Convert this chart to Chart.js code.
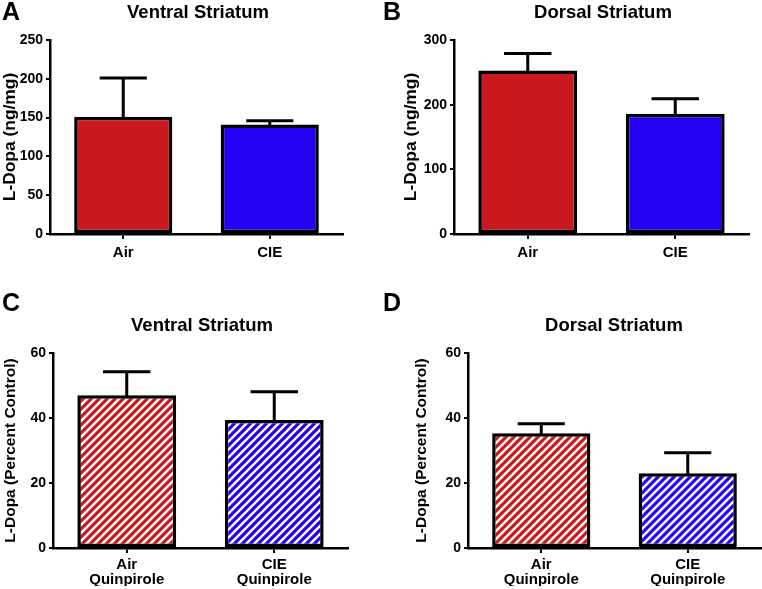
<!DOCTYPE html>
<html>
<head>
<meta charset="utf-8">
<script src="https://cdn.jsdelivr.net/npm/chart.js@4.4.1/dist/chart.umd.min.js"></script>
<style>
    body { margin: 0; background: #fff; }
    #page { position: relative; width: 762px; height: 589px; overflow: hidden; font-family: 'Liberation Sans', Arial, sans-serif; font-weight: bold; color: #000; }
    .panel { position: absolute; }
    .letter { position: absolute; font-size: 25px; line-height: 25px; }
    .title { position: absolute; font-size: 18.5px; line-height: 18.5px; transform: translateX(-50%); white-space: nowrap; }
</style>
</head>
<body>
<div id="page">
    <canvas id="chartA" class="panel" width="381" height="280" style="left:0;top:0"></canvas>
    <canvas id="chartB" class="panel" width="381" height="280" style="left:381px;top:0"></canvas>
    <canvas id="chartC" class="panel" width="381" height="299" style="left:0;top:290px"></canvas>
    <canvas id="chartD" class="panel" width="381" height="299" style="left:381px;top:290px"></canvas>

    <div class="letter" style="left:2px;top:-1px">A</div>
    <div class="letter" style="left:383px;top:-1px">B</div>
    <div class="letter" style="left:2px;top:290px">C</div>
    <div class="letter" style="left:383px;top:290px">D</div>

    <div class="title" style="left:198px;top:3px">Ventral Striatum</div>
    <div class="title" style="left:603px;top:3px">Dorsal Striatum</div>
    <div class="title" style="left:202px;top:316px">Ventral Striatum</div>
    <div class="title" style="left:614px;top:316px">Dorsal Striatum</div>
</div>

<script>
// Data (mean and one-sided SEM)
const groups = ['Air', 'CIE'];
const groupsQuin = [['Air', 'Quinpirole'], ['CIE', 'Quinpirole']];

const ventralLdopa = [151, 141];
const ventralLdopaErr = [50, 5];
const dorsalLdopa = [253, 186];
const dorsalLdopaErr = [26, 23];

const ventralQuin = [47, 39.4];
const ventralQuinErr = [7.2, 8.7];
const dorsalQuin = [35.3, 23];
const dorsalQuinErr = [2.9, 6.3];

const RED = '#C9191E';
const BLUE = '#2400F2';
const FONT = "'Liberation Sans', Arial, sans-serif";

function stripes(color) {
    const s = 8;
    const c = document.createElement('canvas');
    c.width = s;
    c.height = s;
    const ctx = c.getContext('2d');
    ctx.fillStyle = '#fff';
    ctx.fillRect(0, 0, s, s);
    ctx.strokeStyle = color;
    ctx.lineWidth = s / (2 * Math.SQRT2) + 0.4;
    ctx.beginPath();
    ctx.moveTo(-s, s); ctx.lineTo(s, -s);
    ctx.moveTo(0, s); ctx.lineTo(s, 0);
    ctx.moveTo(0, 2 * s); ctx.lineTo(2 * s, 0);
    ctx.stroke();
    return ctx.createPattern(c, 'repeat');
}

// one-sided error bars, drawn behind the bars
const errorBars = {
    id: 'errorBars',
    beforeDatasetsDraw(chart) {
        const ctx = chart.ctx;
        const ds = chart.data.datasets[0];
        const y = chart.scales.y;
        chart.getDatasetMeta(0).data.forEach((bar, i) => {
            const top = y.getPixelForValue(ds.data[i] + ds.errors[i]);
            const half = bar.width * 0.24;
            ctx.save();
            ctx.strokeStyle = '#000';
            ctx.lineWidth = 3;
            ctx.beginPath();
            ctx.moveTo(bar.x, bar.y + 2);
            ctx.lineTo(bar.x, top);
            ctx.moveTo(bar.x - half, top);
            ctx.lineTo(bar.x + half, top);
            ctx.stroke();
            ctx.restore();
        });
    }
};

function makeChart(id, cfg) {
    return new Chart(document.getElementById(id), {
        type: 'bar',
        data: {
            labels: cfg.labels,
            datasets: [{
                data: cfg.values,
                errors: cfg.errors,
                backgroundColor: cfg.colors,
                borderColor: '#000',
                borderWidth: 3.5,
                borderSkipped: false,
                categoryPercentage: 1,
                barPercentage: 0.67
            }]
        },
        options: {
            responsive: false,
            animation: false,
            layout: { padding: cfg.padding },
            plugins: {
                legend: { display: false },
                tooltip: { enabled: false }
            },
            scales: {
                x: {
                    afterFit: s => { s.height = cfg.xHeight; },
                    grid: { offset: false, drawOnChartArea: false, tickLength: 5, color: '#000', lineWidth: 2 },
                    border: { display: true, color: '#000', width: 2.5 },
                    ticks: {
                        color: '#000',
                        padding: cfg.xPad,
                        font: { family: FONT, size: 15, weight: 'bold', lineHeight: 1.0 }
                    }
                },
                y: {
                    min: 0,
                    max: cfg.max,
                    afterFit: s => { s.width = cfg.yWidth; },
                    grid: { drawOnChartArea: false, tickLength: 4, color: '#000', lineWidth: 2 },
                    border: { display: true, color: '#000', width: 2.5 },
                    ticks: {
                        stepSize: cfg.step,
                        color: '#000',
                        padding: 3,
                        font: { family: FONT, size: 14, weight: 'bold' }
                    },
                    title: {
                        display: true,
                        text: cfg.yTitle,
                        color: '#000',
                        padding: { top: cfg.titlePad, bottom: 0 },
                        font: { family: FONT, size: cfg.yTitleSize, weight: 'bold' }
                    }
                }
            }
        },
        plugins: [errorBars]
    });
}

makeChart('chartA', {
    labels: groups, values: ventralLdopa, errors: ventralLdopaErr,
    colors: [RED, BLUE], max: 250, step: 50,
    yTitle: 'L-Dopa (ng/mg)', yTitleSize: 17.4, titlePad: 0,
    yWidth: 50, xHeight: 30, xPad: 6,
    padding: { left: 0, right: 38, top: 40, bottom: 16 }
});

makeChart('chartB', {
    labels: groups, values: dorsalLdopa, errors: dorsalLdopaErr,
    colors: [RED, BLUE], max: 300, step: 100,
    yTitle: 'L-Dopa (ng/mg)', yTitleSize: 17.4, titlePad: 20,
    yWidth: 73, xHeight: 30, xPad: 6,
    padding: { left: 0, right: 13, top: 40, bottom: 16 }
});

makeChart('chartC', {
    labels: groupsQuin, values: ventralQuin, errors: ventralQuinErr,
    colors: [stripes(RED), stripes(BLUE)], max: 60, step: 20,
    yTitle: 'L-Dopa (Percent Control)', yTitleSize: 15.5, titlePad: 1,
    yWidth: 53, xHeight: 38, xPad: 4,
    padding: { left: 0, right: 33, top: 63, bottom: 3 }
});

makeChart('chartD', {
    labels: groupsQuin, values: dorsalQuin, errors: dorsalQuinErr,
    colors: [stripes(RED), stripes(BLUE)], max: 60, step: 20,
    yTitle: 'L-Dopa (Percent Control)', yTitleSize: 15.5, titlePad: 31,
    yWidth: 87, xHeight: 38, xPad: 4,
    padding: { left: 0, right: 1, top: 63, bottom: 3 }
});
</script>
</body>
</html>
